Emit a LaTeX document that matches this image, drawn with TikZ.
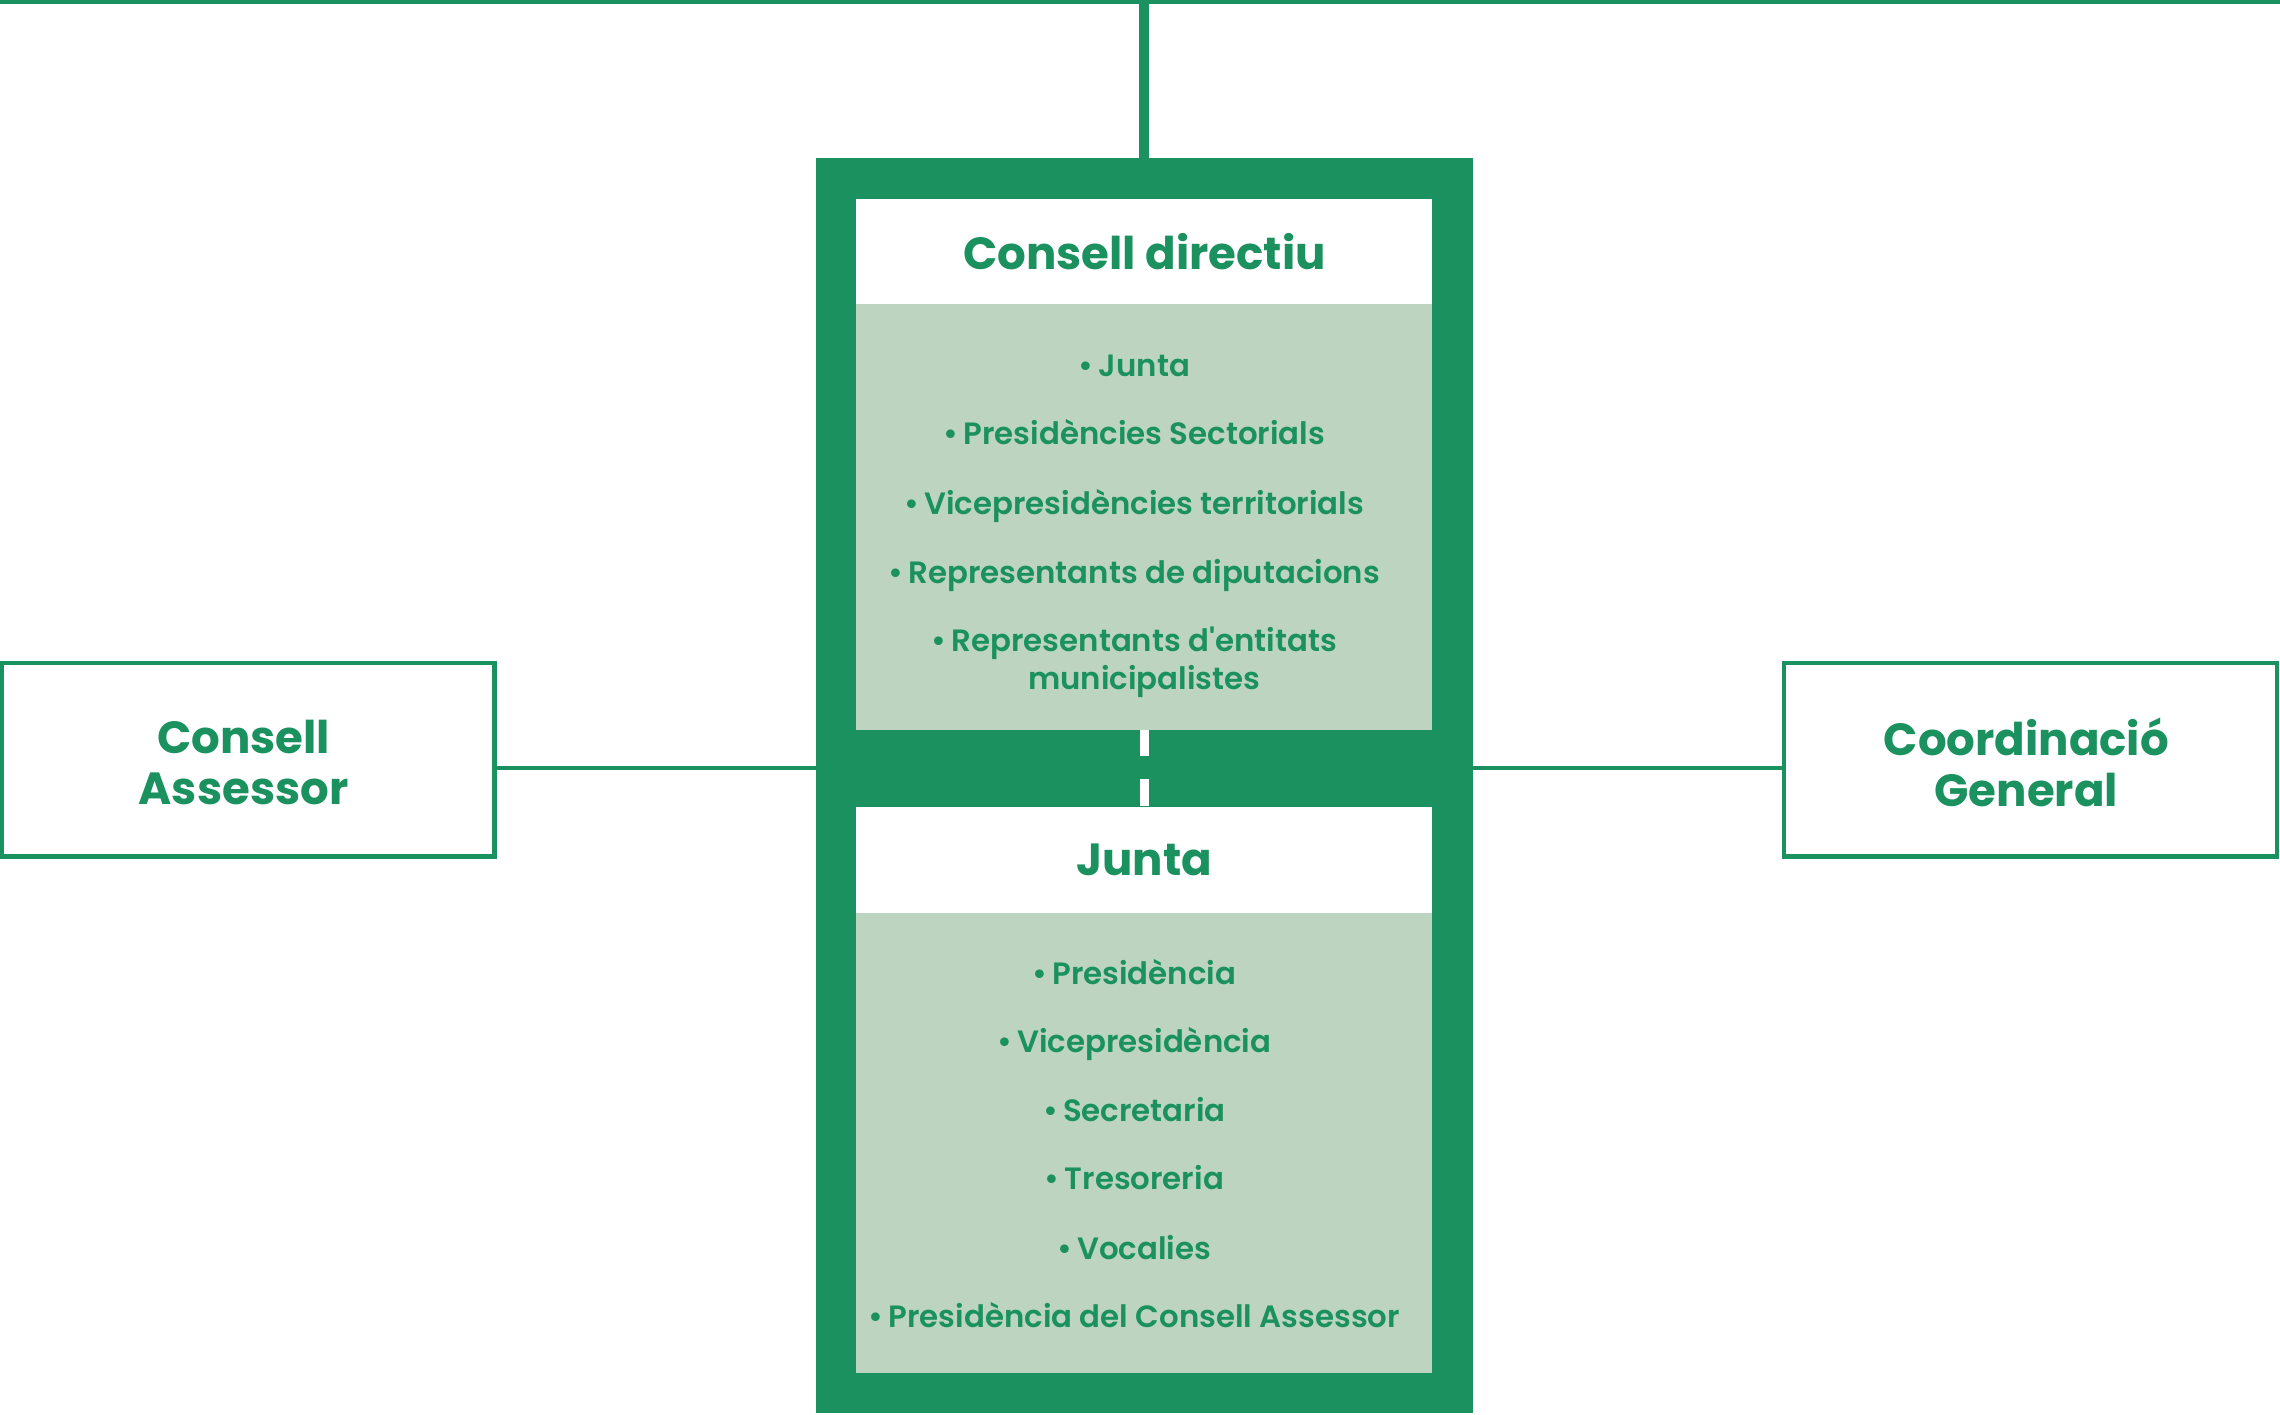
\documentclass[tikz,border=0pt]{standalone}
\usepackage{fontspec}
\setmainfont{Poppins}
\newfontfamily\semibold{Poppins SemiBold}
\definecolor{verd}{HTML}{1A915E}
\definecolor{verdclar}{HTML}{BDD5C0}
\begin{document}
\begin{tikzpicture}[x=1pt,y=-1pt,
	caixa/.style={rectangle,inner sep=0pt,outer sep=0pt,minimum width=396pt},
	titol/.style={font=\fontsize{31}{36}\selectfont\bfseries,text=verd},
	punt/.style={font=\fontsize{21.2}{25}\semibold,text=verd,anchor=base},
	lateral/.style={rectangle,draw=verd,line width=3pt,fill=white,minimum width=339pt,minimum height=133pt,align=center,font=\fontsize{31}{35}\selectfont\bfseries,text=verd}]
	\useasboundingbox (0,0) rectangle (1568,973);
	% marc i caixes
	\node[rectangle,fill=verd,inner sep=0pt,minimum width=452pt,minimum height=863pt] (marc) at (787,540.5) {};
	\node[caixa,fill=white,minimum height=72pt] (directiu) at (787,173) {};
	\node[titol] at (directiu) {Consell directiu};
	\node[caixa,fill=verdclar,minimum height=293pt] (llistaD) at (787,355.5) {};
	\node[caixa,fill=white,minimum height=73pt] (junta) at (787,591.5) {};
	\node[titol] at (junta) {Junta};
	\node[caixa,fill=verdclar,minimum height=316pt] (llistaJ) at (787,786) {};
	\draw[white,line width=6pt,dash pattern=on 18pt off 16pt] (llistaD.south) -- (junta.north);
	% llistes
	\foreach \y/\t in {259/Junta,306/Presidències Sectorials,354/Vicepresidències territorials,401/Representants de diputacions,448/Representants d\textquotesingle entitats}
		\node[punt] at (787,\y) {\llap{\textbullet\,}\t};
	\node[punt] at (787,474) {municipalistes};
	\foreach \y/\t in {677/Presidència,724/Vicepresidència,771/Secretaria,818/Tresoreria,866/Vocalies,913/Presidència del Consell Assessor}
		\node[punt] at (787,\y) {\llap{\textbullet\,}\t};
	% laterals
	\node[lateral] (assessor) at (170.5,522.5) {};
	\node[lateral,draw=none,fill=none] at (170.5,524.5) {\hspace*{-6pt}Consell\\\hspace*{-6pt}Assessor};
	\node[lateral] (coordinacio) at (1396.5,522.5) {};
	\node[lateral,draw=none,fill=none] at (1396.5,524.5) {\hspace*{-6pt}Coordinació\\\hspace*{-6pt}General};
	\coordinate (esq) at (561,528);
	\coordinate (dre) at (1013,528);
	\draw[verd,line width=3pt] (assessor.east |- esq) -- (esq);
	\draw[verd,line width=3pt] (dre) -- (coordinacio.west |- dre);
	% linia superior
	\coordinate (dalt) at (787,1.5);
	\draw[verd,line width=3pt] (0,1.5) -- (1568,1.5);
	\draw[verd,line width=7pt] (dalt) -- (marc.north);
\end{tikzpicture}
\end{document}
